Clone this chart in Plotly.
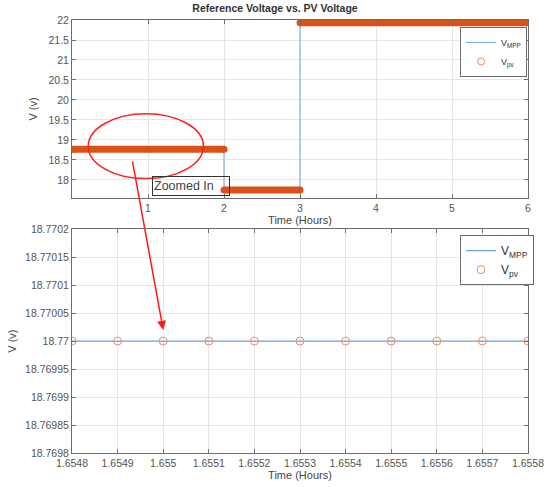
import plotly.graph_objects as go

# top plot: step reference voltage vs PV voltage
t_mpp = [0, 2, 2, 3, 3, 6]
v_mpp = [18.77, 18.77, 17.75, 17.75, 21.93, 21.93]
t_pv = [0, 2, None, 2, 3, None, 3, 6]
v_pv = [18.77, 18.77, None, 17.75, 17.75, None, 21.93, 21.93]

# bottom plot: zoomed in samples
t_zoom = [1.6548, 1.6549, 1.6550, 1.6551, 1.6552, 1.6553,
          1.6554, 1.6555, 1.6556, 1.6557, 1.6558]
v_zoom = [18.77] * 11

top_yticks = [18, 18.5, 19, 19.5, 20, 20.5, 21, 21.5, 22]
bot_yticks = [18.7698, 18.76985, 18.7699, 18.76995, 18.77,
              18.77005, 18.7701, 18.77015, 18.7702]
bot_ylabels = ["18.7698", "18.76985", "18.7699", "18.76995", "18.77",
               "18.77005", "18.7701", "18.77015", "18.7702"]
bot_xlabels = ["1.6548", "1.6549", "1.655", "1.6551", "1.6552", "1.6553",
               "1.6554", "1.6555", "1.6556", "1.6557", "1.6558"]

blue = "#6FA3DA"
orange = "#D95319"
orange_light = "#EE8A66"
axcol = "#6E6E6E"
grid = "#E6E6E6"
font = "Liberation Sans"

fig = go.Figure()

fig.add_trace(go.Scatter(x=t_mpp, y=v_mpp, mode="lines", name="V<sub>MPP</sub>",
                         line=dict(color=blue, width=1), xaxis="x", yaxis="y",
                         legend="legend"))
fig.add_trace(go.Scatter(x=t_pv, y=v_pv, mode="lines+markers", showlegend=False,
                         line=dict(color=orange, width=7),
                         marker=dict(color=orange, size=7),
                         xaxis="x", yaxis="y"))
fig.add_trace(go.Scatter(x=[None], y=[None], mode="markers", name="V<sub>pv</sub>",
                         marker=dict(symbol="circle-open", color=orange_light, size=7),
                         xaxis="x", yaxis="y", legend="legend"))

fig.add_trace(go.Scatter(x=t_zoom, y=v_zoom, mode="lines", name="V<sub>MPP</sub>",
                         line=dict(color=blue, width=1.3), xaxis="x2", yaxis="y2",
                         legend="legend2"))
fig.add_trace(go.Scatter(x=t_zoom, y=v_zoom, mode="markers", name="V<sub>pv</sub>",
                         marker=dict(symbol="circle-open", color=orange_light, size=8,
                                     line=dict(width=1)),
                         xaxis="x2", yaxis="y2", legend="legend2"))

axis_common = dict(showline=True, linecolor=axcol, linewidth=1, mirror="ticks",
                   ticks="inside", ticklen=4, tickcolor=axcol, automargin=False,
                   showgrid=True, gridcolor=grid, zeroline=False,
                   tickfont=dict(family=font, size=10.5, color="#555555"))

fig.update_layout(
    width=550, height=487,
    margin=dict(l=72, r=22, t=20, b=34),
    paper_bgcolor="white", plot_bgcolor="white",
    font=dict(family=font, color="#444444"),
    title=dict(text="<b>Reference Voltage vs. PV Voltage</b>", x=0.5, xanchor="center",
               y=0.982, yanchor="middle", automargin=False,
               font=dict(family=font, size=10.5, color="#333333")),
    xaxis=dict(domain=[0, 1], anchor="y", range=[0, 6], tickvals=[1, 2, 3, 4, 5, 6],
               title=dict(text="Time (Hours)", standoff=2, font=dict(size=11)),
               **axis_common),
    yaxis=dict(domain=[0.589, 1.0], anchor="x", range=[17.55, 22], tickvals=top_yticks,
               title=dict(text="V (v)", standoff=8, font=dict(size=11)),
               **axis_common),
    xaxis2=dict(domain=[0, 1], anchor="y2", range=[1.6548, 1.6558], tickvals=t_zoom,
                ticktext=bot_xlabels,
                title=dict(text="Time (Hours)", standoff=2, font=dict(size=11)),
                **axis_common),
    yaxis2=dict(domain=[0, 0.517], anchor="x2", range=[18.7698, 18.7702],
                tickvals=bot_yticks, ticktext=bot_ylabels,
                title=dict(text="V (v)", standoff=6, font=dict(size=11)),
                **axis_common),
    legend=dict(x=0.851, y=0.984, xanchor="left", yanchor="top",
                bgcolor="white", bordercolor=axcol, borderwidth=1,
                font=dict(family=font, size=9, color="#333333"),
                tracegroupgap=0, itemwidth=30),
    legend2=dict(x=0.851, y=0.503, xanchor="left", yanchor="top",
                 bgcolor="white", bordercolor=axcol, borderwidth=1,
                 font=dict(family=font, size=12, color="#333333"),
                 tracegroupgap=0, itemwidth=30),
)

# red ellipse around the region that is zoomed
fig.add_shape(type="circle", xref="x", yref="y", x0=0.214, x1=1.73, y0=18.035, y1=19.656,
              line=dict(color="#FF2020", width=1.5))

# "Zoomed In" box
fig.add_annotation(x=1.563, y=17.853, xref="x", yref="y", text="Zoomed In",
                   showarrow=False, width=74, height=16, align="left",
                   bordercolor="#333333", borderwidth=1, borderpad=1,
                   font=dict(family=font, size=12.5, color="#444444"))

# arrow from the ellipse down into the zoomed plot
fig.add_annotation(x=1.655, y=18.77002, xref="x2", yref="y2", text="",
                   showarrow=True, ax=-31, ay=-170, arrowhead=2, arrowsize=1.2,
                   arrowwidth=1.5, arrowcolor="#FF1A1A")

# drop the default body margin so the figure sits at the window's corner
fig.write_html("out.html", config={"displayModeBar": False},
               post_script="document.body.style.margin='0';")
